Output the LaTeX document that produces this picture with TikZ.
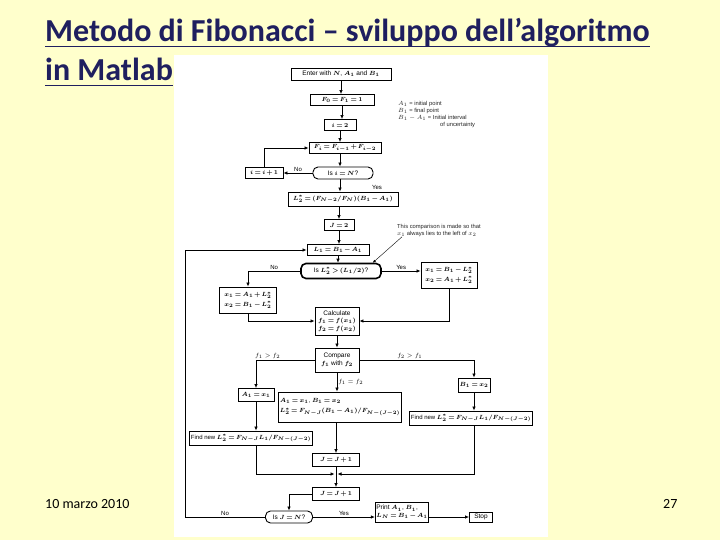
\documentclass[tikz,border=0pt]{standalone}
\usepackage{fontspec}
\setmainfont{Carlito}
\setsansfont{Liberation Sans}
\usetikzlibrary{arrows.meta,positioning}
\definecolor{slidebg}{RGB}{255,255,204}
\definecolor{titleblue}{RGB}{31,31,95}
\newcommand\tightmath{\thickmuskip=3mu\relax\medmuskip=2mu\relax}

\begin{document}
\begin{tikzpicture}[x=1pt,y=-1pt,
    box/.style={draw, line width=0.9pt, fill=white, inner sep=1pt, align=center, font=\sffamily\fontsize{6.5}{7.5}\selectfont\boldmath\tightmath},
    smallbox/.style={box, font=\sffamily\fontsize{6}{7}\selectfont\boldmath\tightmath},
    dec/.style={box, rounded corners=5pt},
    sz/.style 2 args={minimum width=#1pt, minimum height=#2pt},
    arr/.style={-{Latex[length=4pt,width=3.5pt]}, line width=0.7pt},
    lbl/.style={font=\sffamily\fontsize{6}{7}\selectfont, inner sep=1pt},
    note/.style={font=\sffamily\fontsize{5.8}{7}\selectfont, align=left, inner sep=0pt, text=black!85},
    titletxt/.style={font=\bfseries\fontsize{32}{34}\selectfont, text=titleblue, anchor=base west, inner sep=0pt},
    foot/.style={font=\fontsize{14}{15}\selectfont, anchor=base west, inner sep=0pt}
]
\fill[slidebg] (0,0) rectangle (720,540);
\useasboundingbox (0,0) rectangle (720,540);
\fill[white] (174,55) rectangle (548,537);

% slide title and footer
\node[titletxt] (title1) at (45,42) {Metodo di Fibonacci – sviluppo dell’algoritmo};
\node[titletxt] (title2) at (45,81) {in Matlab};
\draw[titleblue, line width=1.7pt] ([yshift=-4.5pt]title1.base west) -- ([yshift=-4.5pt]title1.base east);
\draw[titleblue, line width=1.7pt] ([yshift=-4.5pt]title2.base west) -- ([yshift=-4.5pt]title2.base east);
\node[foot] (date) at (45,508) {10 marzo 2010};
\node[foot] (page) at (663,508) {27};

% flowchart
\node[box, sz={100}{12}] (start) at (341,74) {Enter with $N$, $A_1$ and $B_1$};
\node[box, sz={64}{11}] (fzero) at (342,100) {$F_0 = F_1 = 1$};
\node[box, sz={32}{11}] (iinit) at (340,125) {$i = 2$};
\node[box, sz={72}{11}] (fib) at (345,148) {$F_i = F_{i-1} + F_{i-2}$};
\node[dec, sz={60}{12}] (isi) at (343,173) {Is $i = N$?};
\node[box, sz={38}{11}] (inc) at (264,173) {$i = i + 1$};
\node[box, sz={110}{14}] (ltwo) at (343,199) {$L_2^* = (F_{N-2}/F_N)(B_1 - A_1)$};
\node[box, sz={30}{11}] (jinit) at (339,225) {$J = 2$};
\node[box, sz={62}{11}] (lone) at (338,250) {$L_1 = B_1 - A_1$};
\node[dec, sz={80}{15}, line width=1.6pt] (isl) at (341,271) {Is $L_2^* > (L_1/2)$?};
\node[box, sz={56}{26}] (xright) at (449,275) {$x_1 = B_1 - L_2^*$\\[2pt]$x_2 = A_1 + L_2^*$};
\node[box, sz={57}{26}] (xleft) at (248,300) {$x_1 = A_1 + L_2^*$\\[2pt]$x_2 = B_1 - L_2^*$};
\node[box, sz={44}{28}] (calc) at (337,321) {Calculate\\$f_1 = f(x_1)$\\$f_2 = f(x_2)$};
\node[box, sz={44}{24}] (comp) at (337,360) {Compare\\$f_1$ with $f_2$};
\node[box, sz={36}{13}] (aset) at (256,395) {$A_1 = x_1$};
\node[smallbox, sz={110}{30}, align=left] (both) at (340,407) {$A_1 = x_1$, $B_1 = x_2$\\[3pt]$L_2^* = F_{N-J}(B_1 - A_1)/F_{N-(J-2)}$};
\node[box, sz={32}{14}] (bset) at (474,385) {$B_1 = x_2$};
\node[smallbox, sz={120}{14}] (findr) at (471,418) {Find new $L_2^* = F_{N-J}L_1/F_{N-(J-2)}$};
\node[smallbox, sz={115}{14}] (findl) at (251,438) {Find new $L_2^* = F_{N-J}L_1/F_{N-(J-2)}$};
\node[box, sz={47}{13}] (jincA) at (336,460) {$J = J + 1$};
\node[box, sz={47}{13}] (jincB) at (336,494) {$J = J + 1$};
\node[dec, sz={47}{12}] (isj) at (289,517) {Is $J = N$?};
\node[box, sz={51}{20}, align=left] (print) at (402,512) {Print $A_1$, $B_1$,\\$L_N = B_1 - A_1$};
\node[box, sz={23}{10}] (stop) at (481,517) {Stop};
\coordinate (merge) at (336,474);

\node[note, anchor=north west] (legend) at (398,101) {$A_1$ = initial point\\$B_1$ = final point\\$B_1 - A_1$ = Initial interval\\\hspace*{42pt}of uncertainty};
\node[note, anchor=north west] (remark) at (397,224) {This comparison is made so that\\$x_1$ always lies to the left of $x_2$};

\draw[arr] (start.south) -- (start.south |- fzero.north);
\draw[arr] (fzero.south) -- (fzero.south |- iinit.north);
\draw[arr] (iinit.south) -- (iinit.south |- fib.north);
\draw[arr] (fib.south -| iinit.south) -- (iinit.south |- isi.north);
\draw[arr] (isi.west) -- node[lbl, above] {No} (inc.east);
\draw[arr] (inc.north) |- (fib.west);
\draw[arr] (isi.south -| iinit.south) -- (iinit.south |- ltwo.north);
\node[lbl] at (377,187) {Yes};
\draw[arr] (ltwo.south -| jinit.north) -- (jinit.north);
\draw[arr] (jinit.south) -- (jinit.south |- lone.north);
\draw[arr] (lone.south) -- (lone.south |- isl.north);
\draw[arr] (isl.west) -| node[lbl, above, pos=0.25] {No} (xleft.north);
\draw[arr] (isl.east) -- node[lbl, above] {Yes} (isl.east -| xright.west);
\draw[arr] (xleft.south) |- (calc.west);
\draw[arr] (xright.south) |- (calc.east);
\draw[arr] (calc) -- (comp);
\draw[arr] (comp.west) -| node[lbl, above, pos=0.4] {$f_1 > f_2$} (aset.north);
\draw[arr] (comp.east) -| node[lbl, above, pos=0.22] {$f_2 > f_1$} (bset.north);
\draw[arr] (comp.south) -- node[lbl, right] {$f_1 = f_2$} (comp.south |- both.north);
\draw[arr] (aset.south) -- (aset.south |- findl.north);
\draw[arr] (bset.south) -- (bset.south |- findr.north);
\draw[arr] (both.south -| jincA.north) -- (jincA.north);
\draw[arr] (aset.south |- findl.south) |- ([xshift=-1.5pt]merge);
\draw[arr] (bset.south |- findr.south) |- ([xshift=1.5pt]merge);
\draw[arr] (jincA.south) -- (jincB.north);
\draw[arr] (jincB.west) -| (isj.north);
\draw[arr] (isj.west) -- node[lbl, above] {No} ++(-80,0) |- (lone.west);
\draw[arr] (isj.east) -- node[lbl, above] {Yes} (isj.east -| print.west);
\draw[arr] (print.east |- stop.west) -- (stop.west);
\draw[-{Latex[length=3pt,width=2.5pt]}, line width=0.4pt] ([xshift=5pt]remark.south west) -- ([xshift=-9pt]isl.north east);
\end{tikzpicture}
\end{document}
